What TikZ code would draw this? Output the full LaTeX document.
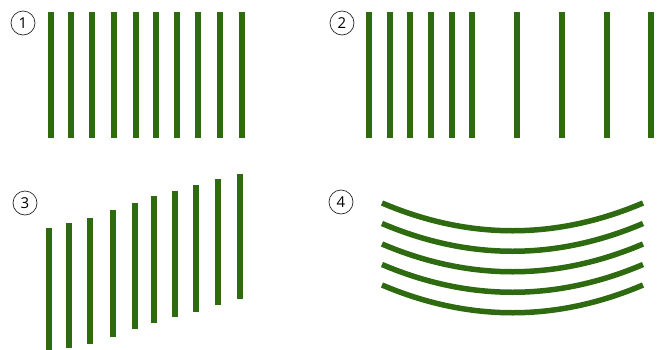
\documentclass[tikz,border=0pt]{standalone}
\usepackage{fontspec}
\setmainfont{Open Sans}
\usepackage{tikz}
\definecolor{barfill}{RGB}{46,106,16}
\definecolor{ringline}{RGB}{40,40,40}
\tikzset{
  numring/.style={
    draw=ringline,
    circle,
    line width=0.7pt,
    minimum size=24pt,
    inner sep=0pt,
    font=\fontsize{15}{15}\selectfont
  },
  bar/.style={draw=barfill, line width=6pt, line cap=butt},
  bow/.style={draw=barfill, line width=5.5pt, line cap=butt}
}

\begin{document}
\begin{tikzpicture}[x=1pt, y=-1pt]
  \useasboundingbox (0,0) rectangle (665,349);
  \clip (0,0) rectangle (665,349);

  % panel labels
  \node[numring] (n1) at (23,23) {1};
  \node[numring] (n2) at (342,23) {2};
  \node[numring] (n3) at (25,203) {3};
  \node[numring] (n4) at (341,202) {4};

  % 1: even spacing
  \foreach \x in {50.7,71.3,92,114.3,136.3,156,177,197.7,220,242.3}
    \draw[bar] (\x,12) -- (\x,138);

  % 2: spacing opens up to the right
  \foreach \x in {369.3,390,410.3,431,451.7,472,517,561.7,606.7,651.3}
    \draw[bar] (\x,12) -- (\x,137.5);

  % 3: bars stepping upward
  \foreach \x/\t/\b in {49/228.3/353,69.3/223.3/348.3,90.3/217.7/344,113/210.3/336.7,
      135/203/329.3,154.3/196/322.7,175/191/317.3,196/185.3/311.7,218.3/179.3/305.3,240.3/173.7/299.3}
    \draw[bar] (\x,\t) -- (\x,\b);

  % 4: bent lines
  \foreach \y in {0,20.5,41,61.5,82}
    \draw[bow] (382,203+\y) .. controls (469,240+\y) and (556,240+\y) .. (643,203+\y);
\end{tikzpicture}
\end{document}
